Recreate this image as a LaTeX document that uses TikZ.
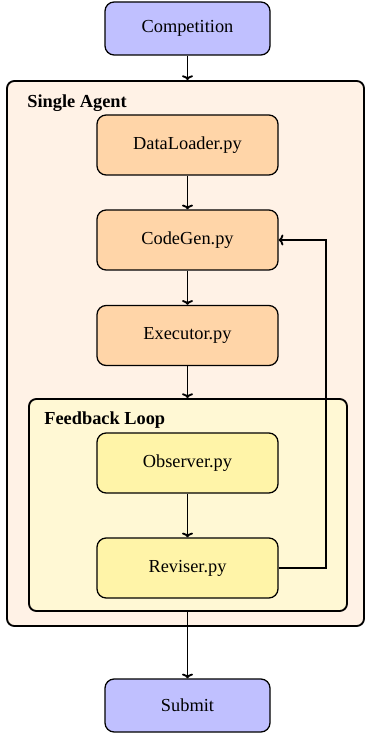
\documentclass[tikz,border=0pt]{standalone}
\usepackage{fontspec}
\setmainfont{Liberation Serif}
\usetikzlibrary{arrows.meta}
\def\pxu{0.545}
\definecolor{termfill}{RGB}{192,192,255}
\definecolor{outerfill}{RGB}{255,242,230}
\definecolor{stepfill}{RGB}{255,213,168}
\definecolor{loopfill}{RGB}{255,248,212}
\definecolor{loopstep}{RGB}{255,244,168}
\begin{document}
\begin{tikzpicture}[x=0.545pt,y=-0.545pt,
  termbox/.style={draw, rounded corners=5pt, line width=0.7pt, fill=termfill,
    minimum width={165*\pxu pt}, minimum height={53*\pxu pt}, inner sep=0pt},
  stepbox/.style={draw, rounded corners=5pt, line width=0.7pt, fill=stepfill,
    minimum width={181*\pxu pt}, minimum height={60*\pxu pt}, inner sep=0pt},
  loopbox/.style={stepbox, fill=loopstep},
  container/.style={draw, rounded corners=4pt, line width=1pt, inner sep=0pt},
  title/.style={font=\bfseries, anchor=west, inner sep=0pt},
  conn/.style={-{To[length=2.6pt,width=6pt]}, line width=1pt}]
\useasboundingbox (0,0) rectangle (365,734);
% containers
\node[container, fill=outerfill, minimum width={357*\pxu pt}, minimum height={545*\pxu pt}] (sa) at (185.5,353.5) {};
\node[title] (satitle) at (27,103) {Single Agent};
\node[container, fill=loopfill, minimum width={318*\pxu pt}, minimum height={212*\pxu pt}] (fb) at (188,505) {};
\node[title] (fbtitle) at (44,420) {Feedback Loop};
% nodes
\node[termbox] (comp) at (187.5,28.5) {Competition};
\node[stepbox] (dl) at (187.5,145) {DataLoader.py};
\node[stepbox] (cg) at (187.5,240) {CodeGen.py};
\node[stepbox] (ex) at (187.5,335.5) {Executor.py};
\node[loopbox] (ob) at (187.5,463) {Observer.py};
\node[loopbox] (rv) at (187.5,568) {Reviser.py};
\node[termbox] (sub) at (187.5,705.5) {Submit};
\coordinate (bend) at (326,568);
% connectors
\draw[conn] (comp.south) -- (comp.south |- sa.north);
\draw[conn] (dl) -- (cg);
\draw[conn] (cg) -- (ex);
\draw[conn] (ex.south) -- (ex.south |- fb.north);
\draw[conn] (ob) -- (rv);
\draw[conn] (rv.east) -- (bend) |- (cg.east);
\draw[conn] (sub.north |- fb.south) -- (sub.north);
\end{tikzpicture}
\end{document}
